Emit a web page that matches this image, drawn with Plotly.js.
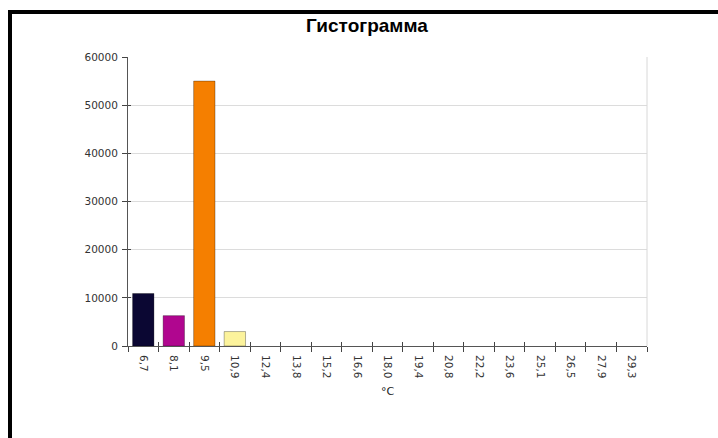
<!DOCTYPE html>
<html><head><meta charset="utf-8">
<script src="https://cdn.plot.ly/plotly-3.0.1.min.js"></script>
<style>
html,body{margin:0;padding:0;background:#fff;width:718px;height:438px;overflow:hidden;}
#frame{position:absolute;left:8px;top:10px;width:800px;height:500px;border-left:4px solid #000;border-top:4px solid #000;box-sizing:border-box;}
#chart{position:absolute;left:0;top:0;width:718px;height:438px;}
</style></head>
<body>
<div id="frame"></div>
<div id="chart"></div>
<script>
const categories = ["6,7","8,1","9,5","10,9","12,4","13,8","15,2","16,6","18,0","19,4","20,8","22,2","23,6","25,1","26,5","27,9","29,3"];
const counts = [10900, 6300, 55000, 3000, 0, 0, 0, 0, 0, 0, 0, 0, 0, 0, 0, 0, 0];
const barColors = ["#0b0733","#b0068f","#f57f00","#fcf39c","#ffffff","#ffffff","#ffffff","#ffffff","#ffffff","#ffffff","#ffffff","#ffffff","#ffffff","#ffffff","#ffffff","#ffffff","#ffffff"];
const yTicks = [0, 10000, 20000, 30000, 40000, 50000, 60000];

const tickFont = {family: "DejaVu Sans, Verdana, sans-serif", size: 10.5, color: "#333"};

const trace = {
  type: "bar",
  x: categories,
  y: counts,
  marker: {color: barColors, line: {color: "rgba(0,0,0,0.3)", width: counts.map(v => v > 0 ? 1 : 0)}},
  hoverinfo: "x+y"
};
// helper (empty) trace so the overlay axes carry the inward half of the ticks
const tickTrace = {
  type: "scatter", mode: "markers",
  x: categories, y: categories.map(() => null),
  xaxis: "x2", yaxis: "y2", showlegend: false, hoverinfo: "skip"
};

const layout = {
  width: 718, height: 438,
  margin: {l: 128, r: 71, t: 57, b: 92, pad: 0},
  paper_bgcolor: "rgba(0,0,0,0)",
  plot_bgcolor: "#fff",
  bargap: 0.3,
  showlegend: false,
  font: tickFont,
  title: {text: "<b>Гистограмма</b>", x: 0.511, xanchor: "center", y: 0.943, yanchor: "middle",
          font: {family: "Liberation Sans, Arial, sans-serif", size: 19, color: "#000"}},
  xaxis: {
    type: "category",
    tickson: "boundaries",
    ticks: "outside", ticklen: 5, tickcolor: "#444", tickwidth: 1,
    tickangle: 90,
    ticklabelstandoff: 6,
    showline: true, linecolor: "#555", linewidth: 1,
    showgrid: false, zeroline: false,
    tickfont: tickFont,
    title: {text: "°C", font: {family: "DejaVu Sans, Verdana, sans-serif", size: 11, color: "#222"}, standoff: 9}
  },
  xaxis2: {
    type: "category", overlaying: "x", anchor: "y2", side: "bottom",
    categoryarray: categories, categoryorder: "array", range: [-0.5, categories.length - 0.5],
    tickson: "boundaries", ticks: "inside", ticklen: 4, tickcolor: "#444", tickwidth: 1,
    showticklabels: false, showline: false, showgrid: false, zeroline: false
  },
  yaxis: {
    range: [0, 60000],
    tickvals: yTicks,
    ticktext: yTicks.map(v => String(v)),
    ticks: "outside", ticklen: 5, tickcolor: "#444", tickwidth: 1,
    ticklabelstandoff: 2,
    showline: true, linecolor: "#555", linewidth: 1,
    showgrid: true, gridcolor: "#dcdcdc", gridwidth: 1,
    zeroline: false,
    tickfont: tickFont
  },
  yaxis2: {
    range: [0, 60000], overlaying: "y", anchor: "x2", side: "left",
    tickvals: yTicks, ticks: "inside", ticklen: 3, tickcolor: "#444", tickwidth: 1,
    showticklabels: false, showline: false, showgrid: false, zeroline: false
  },
  shapes: [
    {type: "line", xref: "paper", yref: "paper", x0: 1, x1: 1, y0: 0, y1: 1, line: {color: "#d8d8d8", width: 1}}
  ]
};

Plotly.newPlot("chart", [trace, tickTrace], layout, {displayModeBar: false, staticPlot: true});
</script>
</body></html>
